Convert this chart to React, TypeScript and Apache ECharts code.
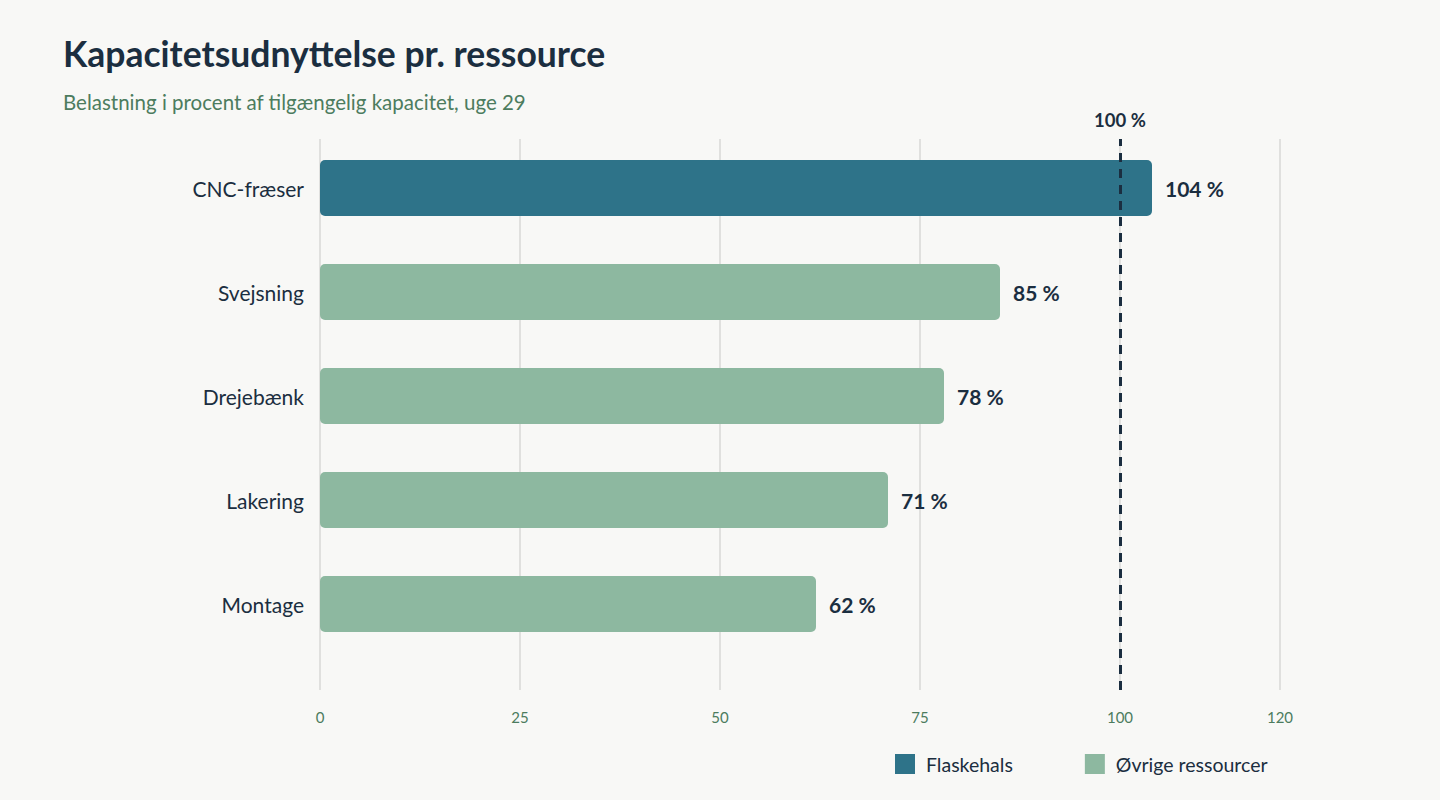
import React, { useEffect, useRef } from "react";
import * as echarts from "echarts";

const categories = ["CNC-fræser", "Svejsning", "Drejebænk", "Lakering", "Montage"];
const bottleneckValues: (number | string)[] = [104, "-", "-", "-", "-"];
const otherValues: (number | string)[] = ["-", 85, 78, 71, 62];
const tickValues = [0, 25, 50, 75, 100, 120];
const referenceValue = 100;
const seriesNames = ["Flaskehals", "Øvrige ressourcer"];

const FONT = "Lato, 'Noto Sans', sans-serif";
const DARK = "#1b2e40";
const GREEN_TEXT = "#4c7c5e";
const C_BOTTLENECK = "#2e7389";
const C_OTHER = "#8db8a0";

export default function App() {
  const ref = useRef<HTMLDivElement>(null);
  useEffect(() => {
    if (!ref.current) return;
    const chart = echarts.init(ref.current, undefined, { renderer: "svg" });
    const labelCfg = {
      show: true,
      position: "right",
      distance: 13,
      formatter: (p: any) => `${p.value} %`,
      color: DARK,
      fontFamily: FONT,
      fontWeight: "bold",
      fontSize: 21,
    };
    chart.setOption({
      animation: false,
      backgroundColor: "#f8f8f6",
      textStyle: { fontFamily: FONT },
      title: {
        text: "Kapacitetsudnyttelse pr. ressource",
        subtext: "Belastning i procent af tilgængelig kapacitet, uge 29",
        left: 58,
        top: 30,
        itemGap: 20,
        textStyle: { fontFamily: FONT, fontSize: 35.5, fontWeight: "bold", color: DARK },
        subtextStyle: { fontFamily: FONT, fontSize: 20.5, color: GREEN_TEXT },
      },
      legend: {
        data: seriesNames,
        left: 890,
        top: 749,
        itemWidth: 20,
        itemHeight: 20,
        itemGap: 72,
        icon: "rect",
        textStyle: { fontFamily: FONT, fontSize: 19.5, color: DARK, padding: [0, 0, 0, 6] },
      },
      grid: [
        { left: 320, width: 960, top: 136, height: 520 },
        { left: 320, width: 960, top: 139, bottom: 110 },
      ],
      xAxis: [
        { type: "value", gridIndex: 0, min: 0, max: 120, show: false },
        {
          type: "value",
          gridIndex: 1,
          min: 0,
          max: 120,
          interval: 25,
          axisLine: { show: false },
          axisTick: { show: false, customValues: tickValues },
          axisLabel: {
            customValues: tickValues,
            color: GREEN_TEXT,
            fontFamily: FONT,
            fontSize: 15,
            margin: 19,
          },
          splitLine: { show: true, lineStyle: { color: "#e0e0de", width: 2 } },
        },
      ],
      yAxis: [
        {
          type: "category",
          gridIndex: 0,
          data: categories,
          inverse: true,
          axisLine: { show: false },
          axisTick: { show: false },
          axisLabel: { color: DARK, fontFamily: FONT, fontSize: 21, margin: 16 },
        },
        { type: "value", gridIndex: 1, min: 0, max: 1, show: false },
      ],
      series: [
        {
          name: seriesNames[0],
          type: "bar",
          xAxisIndex: 0,
          yAxisIndex: 0,
          data: bottleneckValues,
          barWidth: 56,
          barGap: "-100%",
          itemStyle: { color: C_BOTTLENECK, borderRadius: 5 },
          label: labelCfg,
        },
        {
          name: seriesNames[1],
          type: "bar",
          xAxisIndex: 0,
          yAxisIndex: 0,
          data: otherValues,
          barWidth: 56,
          barGap: "-100%",
          itemStyle: { color: C_OTHER, borderRadius: 5 },
          label: labelCfg,
        },
        {
          type: "scatter",
          xAxisIndex: 1,
          yAxisIndex: 1,
          data: [],
          silent: true,
          z: 5,
          markLine: {
            silent: true,
            symbol: ["none", "none"],
            lineStyle: { color: DARK, width: 3, type: [9, 7] },
            label: {
              show: true,
              position: "end",
              distance: 10,
              formatter: `${referenceValue} %`,
              color: DARK,
              fontFamily: FONT,
              fontWeight: "bold",
              fontSize: 18.5,
            },
            data: [{ xAxis: referenceValue }],
          },
        },
      ],
    });
    return () => chart.dispose();
  }, []);
  return (
    <div
      ref={ref}
      style={{ position: "fixed", left: 0, top: 0, width: 1440, height: 800 }}
    />
  );
}
